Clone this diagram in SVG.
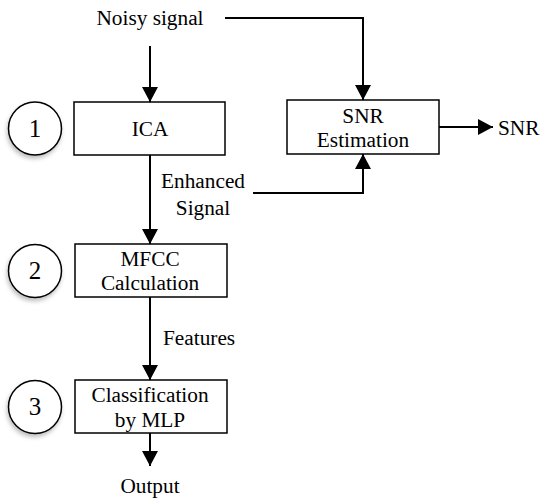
<svg xmlns="http://www.w3.org/2000/svg" width="541" height="498" viewBox="0 0 541 498">
<style>
text{font-family:"Liberation Serif","Times New Roman",serif;font-size:21.3px;fill:#000}
.box{fill:#fff;stroke:#000;stroke-width:1.5}
.circ{fill:#fff;stroke:#000;stroke-width:1.5;filter:url(#sh)}
.num{font-size:25px;text-anchor:middle}
.c{text-anchor:middle}
.ln{fill:none;stroke:#000;stroke-width:2}
</style>
<defs>
<marker id="ah" markerWidth="15" markerHeight="16" refX="15" refY="8" orient="auto" markerUnits="userSpaceOnUse">
<path d="M0,0 L15,8 L0,16 Z" fill="#000"/>
</marker>
<filter id="sh" x="-30%" y="-30%" width="160%" height="160%">
<feDropShadow dx="-1" dy="3" stdDeviation="2" flood-color="#000" flood-opacity="0.25"/>
</filter>
</defs>
<rect width="541" height="498" fill="#fff"/>
<g id="connectors">
<path class="ln" d="M150,46 V102" marker-end="url(#ah)"/>
<path class="ln" d="M225,18 H363 V100" marker-end="url(#ah)"/>
<path class="ln" d="M150,155 V244" marker-end="url(#ah)"/>
<path class="ln" d="M253,193 H363 V154" marker-end="url(#ah)"/>
<path class="ln" d="M439,127 H493" marker-end="url(#ah)"/>
<path class="ln" d="M150,297 V380" marker-end="url(#ah)"/>
<path class="ln" d="M150,433 V466" marker-end="url(#ah)"/>
</g>
<g id="noisy"><text class="c" x="150" y="25">Noisy signal</text></g>
<g id="enhanced"><text class="c" x="203" y="188">Enhanced</text><text class="c" x="203" y="215">Signal</text></g>
<g id="features"><text x="163" y="345">Features</text></g>
<g id="output"><text class="c" x="150" y="493">Output</text></g>
<g id="snrlabel"><text x="498" y="135">SNR</text></g>
<g id="ica"><rect class="box" x="74" y="102" width="151" height="53"/><text class="c" x="150" y="136">ICA</text></g>
<g id="snr"><rect class="box" x="287" y="100" width="152" height="54"/><text class="c" x="363" y="123">SNR</text><text class="c" x="363" y="147">Estimation</text></g>
<g id="mfcc"><rect class="box" x="75" y="244" width="152" height="53"/><text class="c" x="150" y="266">MFCC</text><text class="c" x="150" y="290">Calculation</text></g>
<g id="mlp"><rect class="box" x="75" y="380" width="152" height="53"/><text class="c" x="150" y="402">Classification</text><text class="c" x="150" y="427">by MLP</text></g>
<g id="step1"><circle class="circ" cx="35" cy="128.5" r="26.5"/><text class="num" x="35" y="137">1</text></g>
<g id="step2"><circle class="circ" cx="35" cy="271" r="26.5"/><text class="num" x="35" y="279">2</text></g>
<g id="step3"><circle class="circ" cx="35" cy="407" r="26.5"/><text class="num" x="35" y="415">3</text></g>
</svg>
